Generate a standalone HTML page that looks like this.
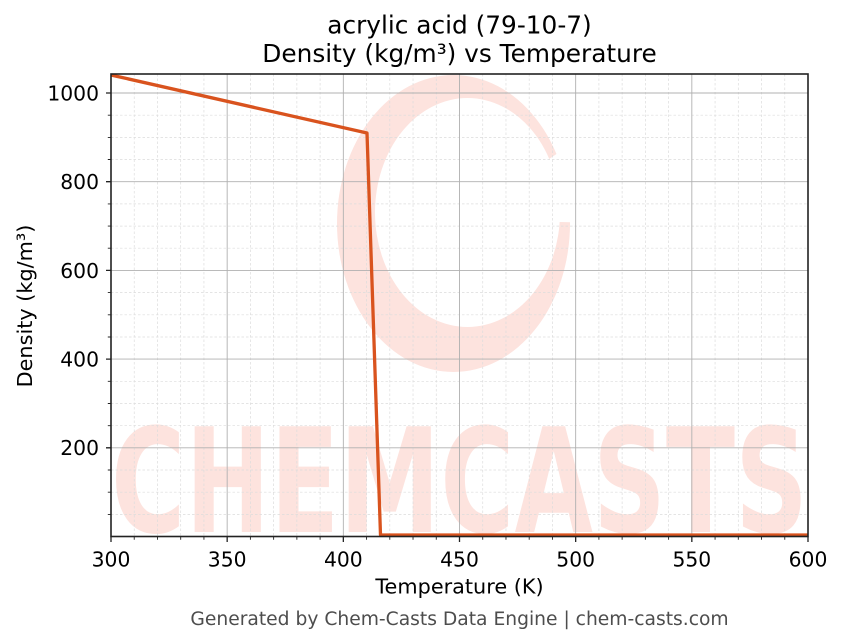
<!DOCTYPE html>
<html><head><meta charset="utf-8"><style>
html,body{margin:0;padding:0;background:#fff;}
svg{display:block;}
text{font-family:"DejaVu Sans","Liberation Sans",sans-serif;}
</style></head><body>
<svg width="843" height="644" viewBox="0 0 843 644" xmlns="http://www.w3.org/2000/svg">
<defs><clipPath id="pa"><rect x="111" y="74" width="697" height="462.5"/></clipPath></defs>
<rect width="843" height="644" fill="#fff"/>
<g clip-path="url(#pa)">
  <path fill-rule="evenodd" fill="#fde3de" d="M337,223.5 A116.5,148.5 0 1 0 570,223.5 A116.5,148.5 0 1 0 337,223.5 Z M375,212.5 A92.5,114.5 0 1 0 560,212.5 A92.5,114.5 0 1 0 375,212.5 Z"/>
  <polygon points="460,220 629.6,104 660,224" fill="#fff"/>
  <text x="111" y="532" font-size="145" font-weight="bold" fill="#fde3de" textLength="697" lengthAdjust="spacingAndGlyphs">CHEMCASTS</text>
</g>
<!-- minor grid -->
<g stroke="#dcdcdc" stroke-width="0.7" stroke-dasharray="2.5,2">
  <path d="M134.23,74V536.5M157.47,74V536.5M180.70,74V536.5M203.93,74V536.5M250.40,74V536.5M273.63,74V536.5M296.87,74V536.5M320.10,74V536.5M366.57,74V536.5M389.80,74V536.5M413.03,74V536.5M436.27,74V536.5M482.73,74V536.5M505.97,74V536.5M529.20,74V536.5M552.43,74V536.5M598.90,74V536.5M622.13,74V536.5M645.37,74V536.5M668.60,74V536.5M715.07,74V536.5M738.30,74V536.5M761.53,74V536.5M784.77,74V536.5"/>
  <path d="M111,115.2H808M111,137.4H808M111,159.5H808M111,203.9H808M111,226.1H808M111,248.2H808M111,292.6H808M111,314.8H808M111,337.0H808M111,381.3H808M111,403.5H808M111,425.7H808M111,470.0H808M111,492.2H808M111,514.4H808"/>
</g>
<!-- major grid -->
<g stroke="#b0b0b0" stroke-width="0.9">
  <path d="M227.17,74V536.5M343.33,74V536.5M459.5,74V536.5M575.67,74V536.5M691.83,74V536.5"/>
  <path d="M111,93.0H808M111,181.7H808M111,270.4H808M111,359.1H808M111,447.8H808"/>
</g>
<!-- data -->
<g clip-path="url(#pa)">
<polyline points="111,75 367,133 380.5,535 808,535" fill="none" stroke="#d9531e" stroke-width="3.3" stroke-linejoin="round"/>
</g>
<!-- spines -->
<rect x="111" y="74" width="697" height="462.5" fill="none" stroke="#222" stroke-width="1.6"/>
<!-- ticks -->
<g stroke="#222" stroke-width="1.3">
  <path d="M111,536.5v5.5M227.17,536.5v5.5M343.33,536.5v5.5M459.5,536.5v5.5M575.67,536.5v5.5M691.83,536.5v5.5M808,536.5v5.5"/>
  <path d="M106,93.0h5M106,181.7h5M106,270.4h5M106,359.1h5M106,447.8h5"/>
</g>
<g stroke="#222" stroke-width="0.9">
  <path d="M134.23,536.5v3.2M157.47,536.5v3.2M180.70,536.5v3.2M203.93,536.5v3.2M250.40,536.5v3.2M273.63,536.5v3.2M296.87,536.5v3.2M320.10,536.5v3.2M366.57,536.5v3.2M389.80,536.5v3.2M413.03,536.5v3.2M436.27,536.5v3.2M482.73,536.5v3.2M505.97,536.5v3.2M529.20,536.5v3.2M552.43,536.5v3.2M598.90,536.5v3.2M622.13,536.5v3.2M645.37,536.5v3.2M668.60,536.5v3.2M715.07,536.5v3.2M738.30,536.5v3.2M761.53,536.5v3.2M784.77,536.5v3.2"/>
  <path d="M107.8,115.2h3.2M107.8,137.4h3.2M107.8,159.5h3.2M107.8,203.9h3.2M107.8,226.1h3.2M107.8,248.2h3.2M107.8,292.6h3.2M107.8,314.8h3.2M107.8,337.0h3.2M107.8,381.3h3.2M107.8,403.5h3.2M107.8,425.7h3.2M107.8,470.0h3.2M107.8,492.2h3.2M107.8,514.4h3.2"/>
</g>
<!-- tick labels -->
<g font-size="20.3" fill="#000" text-anchor="middle">
  <text x="111" y="566.5">300</text>
  <text x="227.17" y="566.5">350</text>
  <text x="343.33" y="566.5">400</text>
  <text x="459.5" y="566.5">450</text>
  <text x="575.67" y="566.5">500</text>
  <text x="691.83" y="566.5">550</text>
  <text x="808" y="566.5">600</text>
</g>
<g font-size="20.3" fill="#000" text-anchor="end">
  <text x="99" y="100.4">1000</text>
  <text x="99" y="189.1">800</text>
  <text x="99" y="277.8">600</text>
  <text x="99" y="366.5">400</text>
  <text x="99" y="455.2">200</text>
</g>
<!-- axis labels -->
<text x="459.5" y="593.5" font-size="20.8" text-anchor="middle" fill="#000">Temperature (K)</text>
<text transform="translate(32,306) rotate(-90)" font-size="20.8" text-anchor="middle" fill="#000">Density (kg/m³)</text>
<!-- title -->
<text x="459.5" y="33.5" font-size="24.8" text-anchor="middle" fill="#000">acrylic acid (79-10-7)</text>
<text x="459.5" y="62" font-size="24.8" text-anchor="middle" fill="#000">Density (kg/m³) vs Temperature</text>
<!-- footer -->
<text x="459.5" y="625" font-size="18.7" text-anchor="middle" fill="#4d4d4d">Generated by Chem-Casts Data Engine | chem-casts.com</text>
</svg>
</body></html>
